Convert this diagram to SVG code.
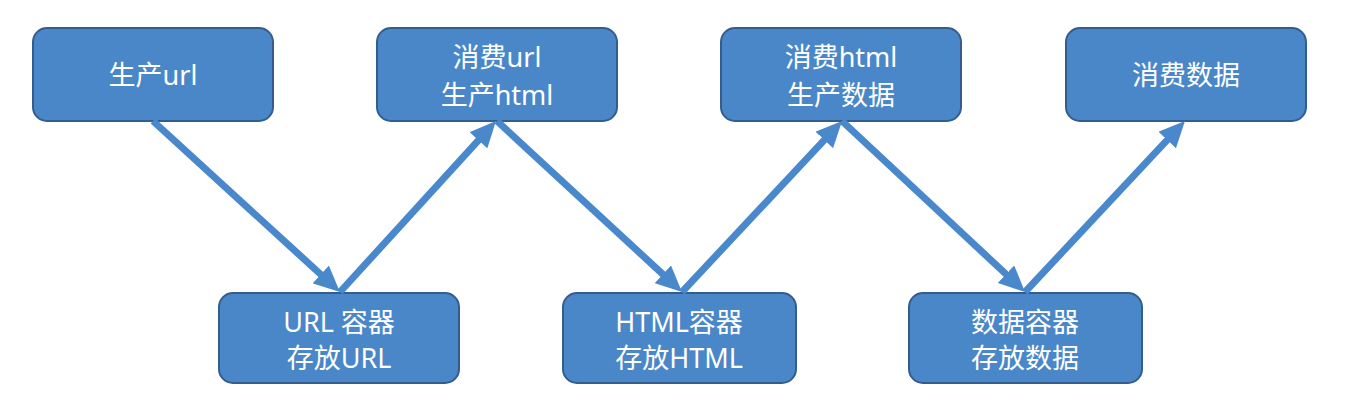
<svg xmlns="http://www.w3.org/2000/svg" width="1372" height="400" viewBox="0 0 1372 400">
<style>
.box{fill:#4a87c9;stroke:#335d8c;stroke-width:2}
.t{fill:#ffffff;font-family:"Noto Sans","Noto Sans CJK SC",sans-serif;font-size:27px;text-anchor:middle}
.c{stroke:#4a88cc;stroke-width:7;fill:none;marker-end:url(#ah)}
</style>
<defs>
<marker id="ah" markerUnits="userSpaceOnUse" markerWidth="26" markerHeight="24" viewBox="0 0 26 24" refX="6" refY="12" orient="auto">
<path d="M0,0 L26,12 L0,24 z" fill="#4a88cc"/>
</marker>
</defs>
<rect width="1372" height="400" fill="#ffffff"/>
<g id="n1"><rect class="box" x="33" y="28" width="240" height="93" rx="14"/><text class="t" x="153" y="85">生产url</text></g>
<g id="n2"><rect class="box" x="377" y="28" width="240" height="93" rx="14"/><text class="t" x="497" y="67">消费url</text><text class="t" x="497" y="105">生产html</text></g>
<g id="n3"><rect class="box" x="721" y="28" width="240" height="93" rx="14"/><text class="t" x="841" y="67">消费html</text><text class="t" x="841" y="105">生产数据</text></g>
<g id="n4"><rect class="box" x="1066" y="28" width="240" height="93" rx="14"/><text class="t" x="1186" y="85">消费数据</text></g>
<g id="n5"><rect class="box" x="219" y="293" width="240" height="90" rx="14"/><text class="t" x="339" y="332">URL 容器</text><text class="t" x="339" y="368">存放URL</text></g>
<g id="n6"><rect class="box" x="563" y="293" width="233" height="90" rx="14"/><text class="t" x="679" y="332">HTML容器</text><text class="t" x="679" y="368">存放HTML</text></g>
<g id="n7"><rect class="box" x="909" y="293" width="233" height="90" rx="14"/><text class="t" x="1025" y="332">数据容器</text><text class="t" x="1025" y="368">存放数据</text></g>
<g id="connectors">
<line class="c" x1="153" y1="121" x2="325.2" y2="278.5"/>
<line class="c" x1="340" y1="292" x2="482.5" y2="135.8"/>
<line class="c" x1="497" y1="121" x2="667.3" y2="278.4"/>
<line class="c" x1="682" y1="292" x2="828.4" y2="135.6"/>
<line class="c" x1="842" y1="121" x2="1010.4" y2="278.3"/>
<line class="c" x1="1025" y1="292" x2="1171.3" y2="135.6"/>
</g>
</svg>
